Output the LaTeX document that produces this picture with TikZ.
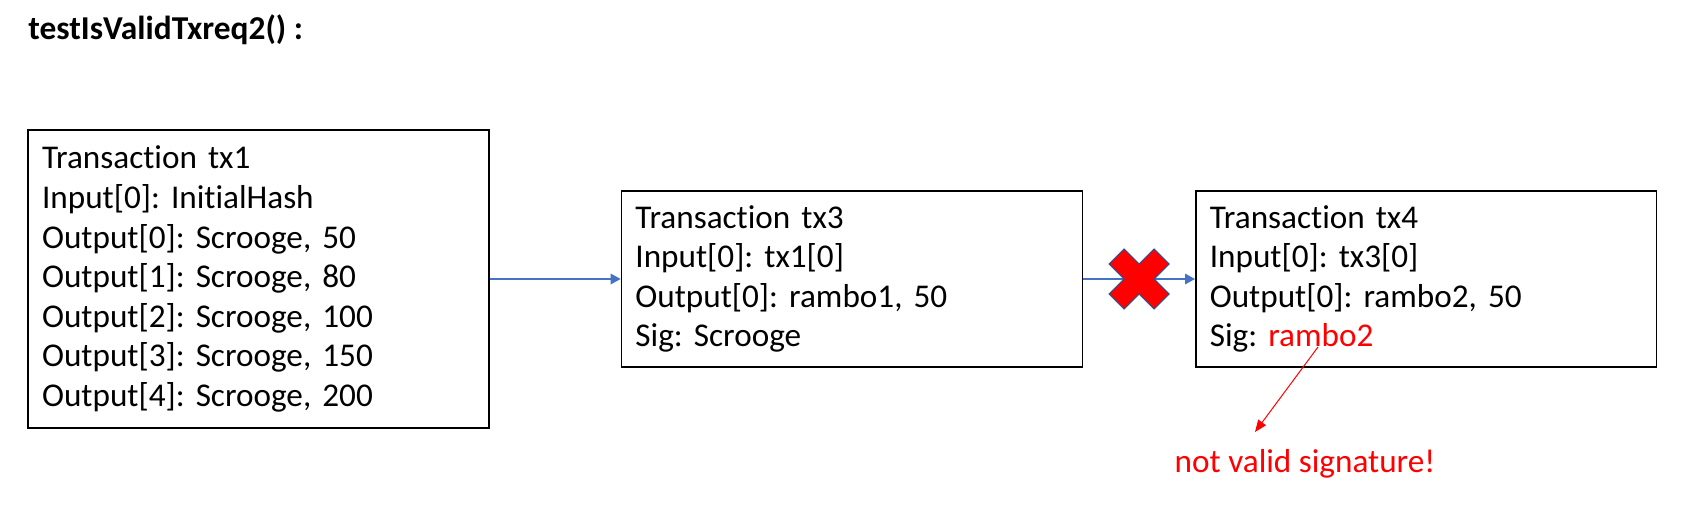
\documentclass[tikz,border=0pt]{standalone}
\usepackage{fontspec}
\setmainfont{Carlito}[Ligatures=NoCommon]
\usepackage{tikz}
\usetikzlibrary{arrows.meta, positioning, calc}

\definecolor{linkblue}{HTML}{4472C4}
\definecolor{crossedge}{HTML}{2F528F}
\definecolor{badred}{HTML}{FF0000}

\tikzset{
  txbox/.style={draw, line width=0.03cm, align=left, inner xsep=0.28cm,
    text width=8.66cm, minimum height=#1,
    font=\fontsize{18.9}{22.5}\selectfont},
  txlink/.style={linkblue, line width=0.03cm, -{Triangle[length=0.2cm, width=0.21cm]}},
  sigarrow/.style={badred, line width=0.02cm, -{Triangle[length=0.24cm, width=0.19cm]}}
}

\begin{document}
\frenchspacing
\begin{tikzpicture}[x=0.02cm, y=-0.02cm]
  \useasboundingbox (0,0) rectangle (1688,510);

  \node[anchor=base west, inner sep=0, font=\fontsize{19}{22}\selectfont\bfseries]
    (title) at (28,40) {testIsValidTxreq2() :};

  % the three transactions
  \node[txbox=5.96cm] (tx1) at (258.5,279) {Transaction tx1\\
    Input[0]: InitialHash\\
    Output[0]: Scrooge, 50\\
    Output[1]: Scrooge, 80\\
    Output[2]: Scrooge, 100\\
    Output[3]: Scrooge, 150\\
    Output[4]: Scrooge, 200};
  \node[txbox=3.52cm, right=2.62cm of tx1] (tx3) {Transaction tx3\\
    Input[0]: tx1[0]\\
    Output[0]: rambo1, 50\\
    Sig: Scrooge};
  \node[txbox=3.52cm, right=2.24cm of tx3] (tx4) {Transaction tx4\\
    Input[0]: tx3[0]\\
    Output[0]: rambo2, 50\\
    Sig: \textcolor{badred}{rambo2}};

  \draw[txlink] (tx1) -- (tx3);
  \draw[txlink] (tx3) -- (tx4);

  % rejected link
  \coordinate (cross) at ($(tx3.east)!0.5!(tx4.west)$);
  \filldraw[fill=badred, draw=crossedge, line width=0.02cm, shift={(cross)}]
    (0,-15) -- (15,-30) -- (30,-15) -- (15,0) -- (30,15) -- (15,30) --
    (0,15) -- (-15,30) -- (-30,15) -- (-15,0) -- (-30,-15) -- (-15,-30) -- cycle;

  % bad signature
  \node[anchor=base, text=badred, font=\fontsize{18.9}{22.5}\selectfont]
    (note) at (1305,472) {not valid signature!};
  \coordinate (sig) at (1318,347);
  \coordinate (tip) at (1255,432);
  \draw[sigarrow] (sig) -- (tip);
\end{tikzpicture}
\end{document}
